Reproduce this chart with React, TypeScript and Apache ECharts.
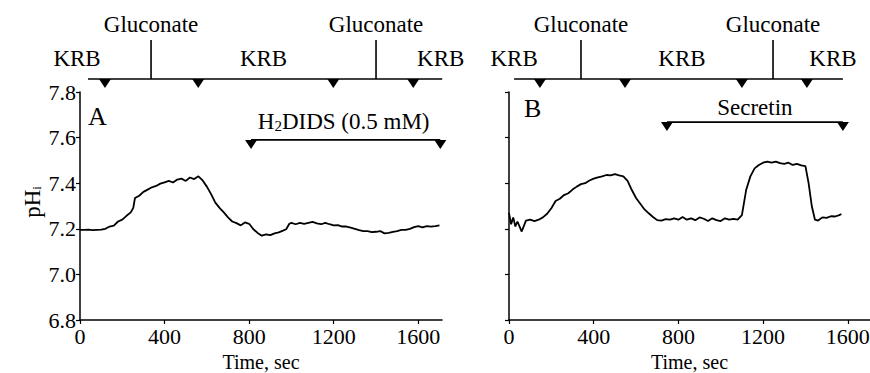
import React, { useEffect, useRef } from "react";
import * as echarts from "echarts";

// ---- Panel A trace (time in s, pHi) ----
const timeA = [0, 20, 40, 60, 80, 100, 120, 140, 160, 180, 200, 220, 240, 252, 260, 280, 300, 320, 340, 360, 380, 400, 420, 440, 460, 480, 500, 520, 540, 560, 580, 600, 620, 640, 660, 680, 700, 720, 740, 760, 780, 800, 820, 840, 860, 880, 900, 920, 940, 960, 975, 990, 1000, 1020, 1040, 1060, 1080, 1100, 1120, 1140, 1160, 1180, 1200, 1220, 1240, 1260, 1280, 1300, 1320, 1340, 1360, 1380, 1400, 1420, 1440, 1460, 1480, 1500, 1520, 1540, 1560, 1580, 1600, 1620, 1640, 1660, 1680, 1700];
const phA = [7.195, 7.195, 7.196, 7.194, 7.195, 7.196, 7.2, 7.21, 7.214, 7.232, 7.24, 7.257, 7.272, 7.292, 7.335, 7.345, 7.362, 7.372, 7.382, 7.388, 7.398, 7.404, 7.41, 7.403, 7.416, 7.42, 7.41, 7.425, 7.418, 7.43, 7.412, 7.385, 7.352, 7.315, 7.292, 7.272, 7.25, 7.232, 7.225, 7.215, 7.228, 7.222, 7.198, 7.182, 7.17, 7.176, 7.172, 7.18, 7.184, 7.192, 7.198, 7.222, 7.226, 7.22, 7.226, 7.222, 7.226, 7.23, 7.224, 7.22, 7.226, 7.22, 7.215, 7.216, 7.21, 7.21, 7.205, 7.2, 7.194, 7.19, 7.19, 7.185, 7.187, 7.19, 7.18, 7.182, 7.186, 7.19, 7.195, 7.195, 7.2, 7.207, 7.212, 7.206, 7.212, 7.21, 7.212, 7.215];

// ---- Panel B trace ----
const timeB = [0, 10, 20, 30, 40, 60, 80, 100, 120, 140, 160, 180, 200, 220, 240, 260, 280, 300, 320, 340, 360, 380, 400, 420, 440, 460, 480, 500, 520, 540, 560, 580, 600, 620, 640, 660, 680, 700, 720, 740, 760, 780, 800, 820, 840, 860, 880, 900, 920, 940, 960, 980, 1000, 1020, 1040, 1060, 1080, 1100, 1120, 1140, 1160, 1180, 1200, 1220, 1240, 1260, 1280, 1300, 1320, 1340, 1360, 1380, 1400, 1415, 1430, 1445, 1460, 1480, 1500, 1520, 1540, 1560, 1570];
const phB = [7.27, 7.22, 7.25, 7.21, 7.232, 7.188, 7.236, 7.24, 7.234, 7.24, 7.25, 7.266, 7.29, 7.322, 7.332, 7.348, 7.356, 7.372, 7.385, 7.396, 7.4, 7.412, 7.42, 7.426, 7.43, 7.436, 7.434, 7.44, 7.434, 7.43, 7.41, 7.37, 7.335, 7.31, 7.285, 7.268, 7.252, 7.238, 7.236, 7.242, 7.24, 7.246, 7.24, 7.252, 7.24, 7.246, 7.238, 7.25, 7.244, 7.234, 7.246, 7.238, 7.234, 7.246, 7.24, 7.244, 7.24, 7.26, 7.37, 7.43, 7.465, 7.48, 7.49, 7.495, 7.49, 7.495, 7.488, 7.485, 7.49, 7.48, 7.485, 7.478, 7.475, 7.4, 7.3, 7.24, 7.236, 7.25, 7.248, 7.255, 7.254, 7.26, 7.265];

// ---- axes ----
const xTicks = [0, 400, 800, 1200, 1600];
const yTicks = [6.8, 7.0, 7.2, 7.4, 7.6, 7.8];

// ---- protocol annotations (times in s) ----
const barA = [38, 1713];
const switchA = [336, 1400];
const markerA = [118, 559, 1198, 1576];
const krbA = [-14, 868, 1706];
const barB = [24, 1577];
const switchB = [340, 1247];
const markerB = [146, 548, 1100, 1407];
const krbB = [24, 817, 1530];
const h2didsSpan = [809, 1704];
const secretinSpan = [746, 1577];

const FONT = '"Liberation Serif", "Times New Roman", serif';
const INK = "#000";

export default function App() {
  const ref = useRef<HTMLDivElement>(null);
  useEffect(() => {
    if (!ref.current) return;
    const chart = echarts.init(ref.current, null, { renderer: "svg" });
    const mkX = (gi: number, max: number) => ({
      type: "value",
      gridIndex: gi,
      min: 0,
      max,
      interval: 400,
      name: "Time, sec",
      nameLocation: "middle",
      nameGap: 28,
      nameTextStyle: { fontFamily: FONT, fontSize: 20, lineHeight: 20, color: INK },
      axisLine: { lineStyle: { color: INK, width: 1.5 } },
      axisTick: { show: true, length: 4, inside: false, customValues: xTicks, lineStyle: { color: INK, width: 1.2 } },
      axisLabel: {
        customValues: xTicks,
        formatter: (v: number) => String(Math.round(v)),
        fontFamily: FONT,
        fontSize: 22,
        color: INK,
        margin: 5,
      },
      splitLine: { show: false },
    });
    const mkY = (gi: number, labels: boolean) => ({
      type: "value",
      gridIndex: gi,
      min: 6.8,
      max: 7.8,
      interval: 0.2,
      axisLine: { show: true, lineStyle: { color: INK, width: 1.5 } },
      axisTick: { show: true, length: 4, inside: false, customValues: yTicks, lineStyle: { color: INK, width: 1.2 } },
      axisLabel: {
        show: labels,
        customValues: yTicks,
        formatter: (v: number) => v.toFixed(1),
        fontFamily: FONT,
        fontSize: 22,
        color: INK,
        margin: 4,
      },
      splitLine: { show: false },
    });
    chart.setOption({
      animation: false,
      backgroundColor: "#fff",
      grid: [
        { left: 80, top: 92, width: 362, height: 228, outerBoundsMode: "none", containLabel: false },
        { left: 509, top: 92, width: 361, height: 228, outerBoundsMode: "none", containLabel: false },
      ],
      xAxis: [mkX(0, 1712), mkX(1, 1705)],
      yAxis: [mkY(0, true), mkY(1, false)],
      series: [
        {
          type: "line",
          xAxisIndex: 0,
          yAxisIndex: 0,
          showSymbol: false,
          data: timeA.map((t, i) => [t, phA[i]]),
          lineStyle: { color: INK, width: 1.8 },
        },
        {
          type: "line",
          xAxisIndex: 1,
          yAxisIndex: 1,
          showSymbol: false,
          data: timeB.map((t, i) => [t, phB[i]]),
          lineStyle: { color: INK, width: 1.8 },
        },
      ],
    });

    const px = (xi: number, t: number) => chart.convertToPixel({ xAxisIndex: xi }, t) as number;
    const py = (yi: number, v: number) => chart.convertToPixel({ yAxisIndex: yi }, v) as number;
    const els: any[] = [];
    const line = (x1: number, y1: number, x2: number, y2: number) =>
      els.push({ type: "line", silent: true, shape: { x1, y1, x2, y2 }, style: { stroke: INK, lineWidth: 1.6 } });
    const tri = (x: number, y: number) =>
      els.push({ type: "polygon", silent: true, shape: { points: [[x - 6, y], [x + 6, y], [x, y + 9]] }, style: { fill: INK } });
    const txt = (x: number, y: number, text: string, size = 23, align = "center", rich?: any) =>
      els.push({
        type: "text",
        silent: true,
        x,
        y,
        style: { text, x: 0, y: 0, align, verticalAlign: "middle", fill: INK, fontFamily: FONT, fontSize: size, rich },
      });

    const barY = 79;
    const panels = [
      { xi: 0, bar: barA, sw: switchA, mk: markerA, krb: krbA },
      { xi: 1, bar: barB, sw: switchB, mk: markerB, krb: krbB },
    ];
    panels.forEach((p) => {
      line(px(p.xi, p.bar[0]), barY, px(p.xi, p.bar[1]), barY);
      p.sw.forEach((s) => {
        const x = px(p.xi, s);
        line(x, 40, x, barY);
        txt(x, 24, "Gluconate");
      });
      p.mk.forEach((m) => tri(px(p.xi, m), barY));
      p.krb.forEach((k) => txt(px(p.xi, k), 58, "KRB"));
    });

    // Panel letters
    txt(88, 116, "A", 26, "left");
    txt(524, 108, "B", 26, "left");

    // H2DIDS span
    const hy = py(0, 7.59);
    const h0 = px(0, h2didsSpan[0]);
    const h1 = px(0, h2didsSpan[1]);
    line(h0, hy, h1, hy);
    tri(h0, hy);
    tri(h1, hy);
    txt((h0 + h1) / 2 - 2, hy - 18, "{a|H}{s|2}{a|DIDS (0.5 mM)}", 23, "center", {
      a: { fontFamily: FONT, fontSize: 23, fill: INK, lineHeight: 24 },
      s: { fontFamily: FONT, fontSize: 15, fill: INK, lineHeight: 24, padding: [9, 0, 0, 0] },
    });

    // Secretin span
    const sy = py(1, 7.668);
    const s0 = px(1, secretinSpan[0]);
    const s1 = px(1, secretinSpan[1]);
    line(s0, sy, s1, sy);
    tri(s0, sy);
    tri(s1, sy);
    txt((s0 + s1) / 2, sy - 15, "Secretin");

    // y axis name
    els.push({
      type: "text",
      silent: true,
      x: 32,
      y: 202,
      rotation: Math.PI / 2,
      style: {
        text: "{a|pH}{s|i}",
        align: "center",
        verticalAlign: "middle",
        fill: INK,
        rich: {
          a: { fontFamily: FONT, fontSize: 23, fill: INK, lineHeight: 24 },
          s: { fontFamily: FONT, fontSize: 13, fill: INK, lineHeight: 24, padding: [9, 0, 0, 0] },
        },
      },
    });

    chart.setOption({ graphic: { elements: els } });
    return () => chart.dispose();
  }, []);
  return (
    <div
      ref={ref}
      style={{ position: "absolute", left: 0, top: 0, width: 870, height: 373, background: "#fff" }}
    />
  );
}
